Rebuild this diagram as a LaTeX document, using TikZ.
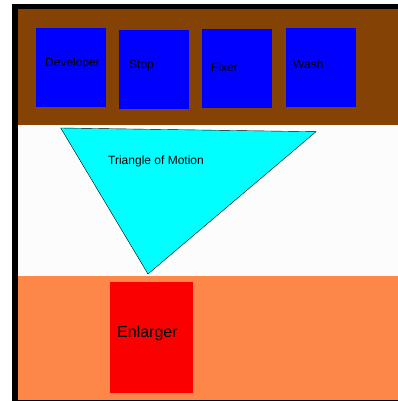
\documentclass[tikz,border=0pt]{standalone}
\usepackage{fontspec}
\setmainfont{Liberation Sans}
\definecolor{benchbrown}{RGB}{132,66,4}
\definecolor{floororange}{RGB}{253,135,72}
\definecolor{roomwhite}{RGB}{252,252,252}
\definecolor{enlargerred}{RGB}{250,0,0}
\definecolor{tankblue}{RGB}{0,0,255}
\definecolor{motioncyan}{RGB}{0,255,255}
\tikzset{
  tank/.style={draw=none, fill=tankblue, rectangle, inner sep=0pt, minimum width=70pt, minimum height=79pt},
  lbl/.style={inner sep=0pt, anchor=west, font=\fontsize{12}{14}\selectfont}
}
\begin{document}
\begin{tikzpicture}[x=1pt, y=-1pt]
    \useasboundingbox (0,0) rectangle (398,401);
    \fill[white] (0,0) rectangle (398,401);

    % --- WALLS ---
    \fill[black] (12,4) rectangle (398,9);
    \fill[black] (12,4) rectangle (18,401);

    % --- BENCH WITH TANKS ---
    \fill[benchbrown] (18,9) rectangle (398,125);

    \node[tank] (dev) at (71,67.5) {};
    \node[tank] (stop) at (154,69.5) {};
    \node[tank] (fix) at (237,68.5) {};
    \node[tank] (wash) at (321,67.5) {};

    \node[lbl] (devlbl) at (45,63) {Developer};
    \node[lbl] (stoplbl) at (129,66) {Stop};
    \node[lbl] (fixlbl) at (211,67) {Fixer};
    \node[lbl] (washlbl) at (293,64) {Wash};

    % --- OPEN FLOOR ---
    \fill[roomwhite] (18,125) rectangle (398,276);

    % The triangle
    \draw[thin, black, fill=motioncyan]
        (60.7,128) -- (316,131.7) -- (148,274) -- cycle;
    \node[lbl] (tri) at (108,161.5) {Triangle of Motion};

    % --- ENLARGER TABLE ---
    \fill[floororange] (18,276) rectangle (398,400);
    \draw[black, thin] (18,400.5) -- (398,400.5);

    \node[draw=none, fill=enlargerred, rectangle, inner sep=0pt,
          minimum width=83pt, minimum height=110.5pt] (enl) at (151.5,337.5) {};
    \node[lbl, font=\fontsize{16}{19}\selectfont] (enllbl) at (117,333) {Enlarger};
\end{tikzpicture}
\end{document}
